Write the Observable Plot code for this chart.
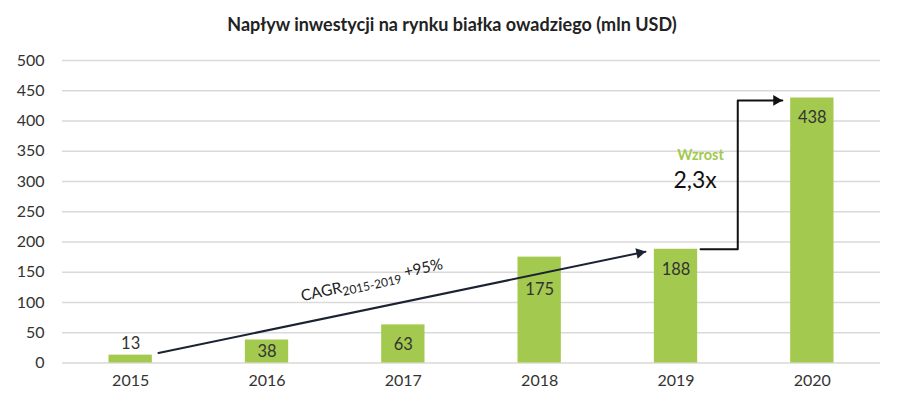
<!DOCTYPE html>
<html><head><meta charset="utf-8">
<script src="https://cdn.jsdelivr.net/npm/d3@7"></script>
<script src="https://cdn.jsdelivr.net/npm/@observablehq/plot@0.6"></script>
<style>
body{margin:0;background:#fff;font-family:Lato,"Open Sans",sans-serif;}
#title{height:40px;box-sizing:border-box;padding-top:14px;line-height:20px;font-size:18px;font-weight:bold;color:#222;text-align:center;width:900px;padding-left:4px;}
</style></head>
<body>
<div id="title">Napływ inwestycji na rynku białka owadziego (mln USD)</div>
<div id="chart"></div>
<script>
// Data
const years = [2015, 2016, 2017, 2018, 2019, 2020];
const values = [13, 38, 63, 175, 188, 438];
const yTicks = [0, 50, 100, 150, 200, 250, 300, 350, 400, 450, 500];
// Annotation arrows (data space: fractional year, value)
const cagrArrowX = [2015.204, 2018.776];
const cagrArrowY = [16.5, 184];
const growthArrowX = [2019.18, 2019.453, 2019.453, 2019.78];
const growthArrowY = [188, 188, 434, 434];
const cagrLabel = {x: 2016.77, y: 136, text: "CAGR2015-2019 +95%"};
const growthWord = {x: 2019.18, y: 343, text: "Wzrost"};
const growthValue = {x: 2019.14, y: 301, text: "2,3x"};

const bars = years.map((y, i) => ({year: y, value: values[i]}));
const labelDy = {2015: -11, 2016: 12, 2018: 33};
const cagrLine = cagrArrowX.map((x, i) => ({x, y: cagrArrowY[i]}));
const growthLine = growthArrowX.map((x, i) => ({x, y: growthArrowY[i]}));

const green = "#a3c94f";
const dark = "#1b2232";

const chart = Plot.plot({
  width: 900,
  height: 363,
  marginLeft: 62,
  marginRight: 20,
  marginTop: 20,
  marginBottom: 40.5,
  style: {fontFamily: "Lato, 'Open Sans', sans-serif", fontSize: "16px", color: "#333", background: "#fff"},
  x: {domain: [2014.5, 2020.5], axis: null},
  y: {domain: [0, 500], axis: null},
  marks: [
    Plot.ruleY(yTicks, {stroke: "#d9d9d9", strokeWidth: 1.3}),
    Plot.axisY(yTicks, {tickSize: 0, tickPadding: 18, fontSize: 16, fill: "#333", label: null}),
    Plot.axisX(years, {tickSize: 0, tickPadding: 12, fontSize: 16, fill: "#333", tickFormat: d => String(d), label: null}),
    Plot.rectY(bars, {x1: d => d.year - 0.5, x2: d => d.year + 0.5, y: "value", fill: green, insetLeft: 46.5, insetRight: 46.5}),
    ...[...new Set([20, ...Object.values(labelDy)])].map(dy =>
      Plot.text(bars.filter(d => (labelDy[d.year] ?? 20) === dy), {x: "year", y: "value", text: d => String(d.value), dy, fontSize: 16.5, fill: "#333"})
    ),
    Plot.line(cagrLine, {x: "x", y: "y", stroke: dark, strokeWidth: 2}),
    Plot.dot([cagrLine[1]], {x: "x", y: "y", symbol: "triangle", r: 4, fill: dark, stroke: null, rotate: 78.3, dx: -5.9, dy: 1.2}),
    Plot.line(growthLine, {x: "x", y: "y", stroke: "#111", strokeWidth: 2}),
    Plot.dot([growthLine[3]], {x: "x", y: "y", symbol: "triangle", r: 4, fill: "#111", stroke: null, rotate: 90, dx: -6}),
    Plot.text([cagrLabel], {x: "x", y: "y", text: "text", rotate: -12.5, fontSize: 15.5, fill: "#222"}),
    Plot.text([growthWord], {x: "x", y: "y", text: "text", fontSize: 14.5, fontWeight: "bold", fill: green}),
    Plot.text([growthValue], {x: "x", y: "y", text: "text", fontSize: 23, fill: "#111"})
  ]
});

d3.select(chart).selectAll("text").filter(function(){ return this.textContent === cagrLabel.text; })
  .each(function(){
    const t = d3.select(this);
    t.text("");
    t.append("tspan").text("CAGR");
    t.append("tspan").attr("font-size", 12).attr("dy", "0.3em").text("2015-2019");
    t.append("tspan").attr("dy", "-0.3em").text(" +95%");
  });

document.getElementById("chart").append(chart);
</script>
</body></html>
